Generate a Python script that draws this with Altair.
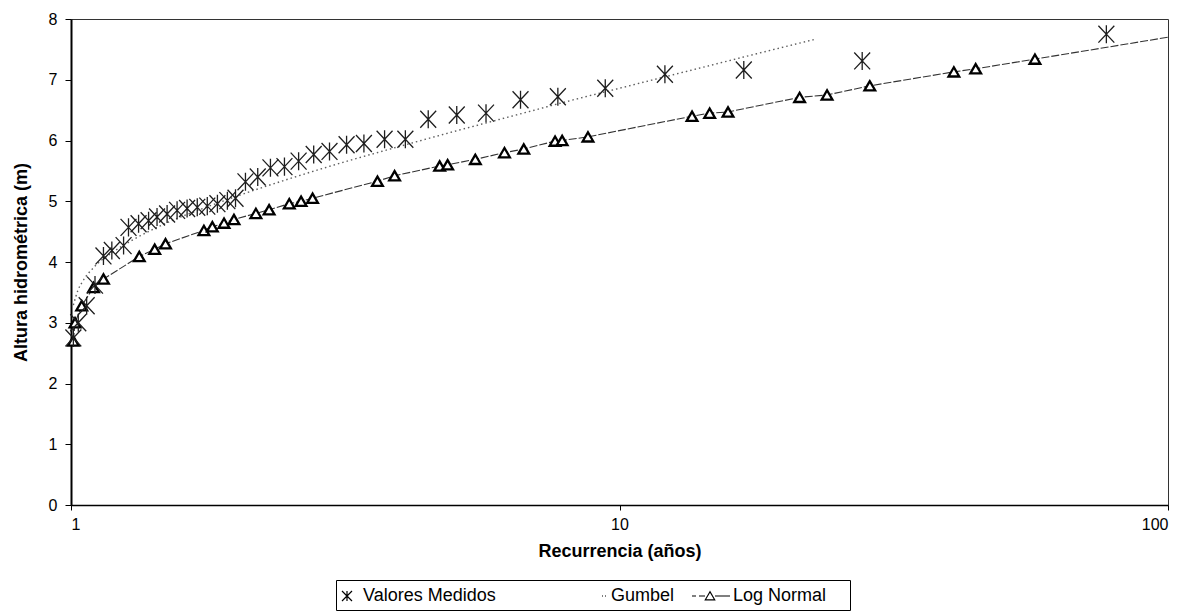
import altair as alt
import pandas as pd

# ---- data ----
med_T = [1.01, 1.031, 1.068, 1.106, 1.146, 1.187, 1.247, 1.273, 1.328, 1.385,
         1.435, 1.497, 1.561, 1.628, 1.699, 1.772, 1.849, 1.928, 1.995, 2.08,
         2.19, 2.31, 2.45, 2.60, 2.77, 2.96, 3.18, 3.42, 3.73, 4.07,
         4.48, 5.05, 5.71, 6.60, 7.72, 9.42, 12.1, 16.85, 27.7, 77.2]
med_h = [2.75, 3.00, 3.28, 3.62, 4.10, 4.19, 4.27, 4.57, 4.63, 4.68,
         4.74, 4.79, 4.85, 4.88, 4.90, 4.92, 4.96, 5.01, 5.05, 5.32,
         5.40, 5.55, 5.57, 5.66, 5.77, 5.82, 5.93, 5.95, 6.02, 6.02,
         6.35, 6.42, 6.45, 6.67, 6.72, 6.86, 7.09, 7.16, 7.31, 7.75]

gum_T = [1.01, 1.03, 1.05, 1.1, 1.2, 1.3, 1.5, 1.75, 2.0, 2.5, 3.0,
         4.0, 5.0, 6.0, 7.0, 8.0, 10.0, 12.0, 15.0, 18.0, 22.6]
gum_h = [3.29, 3.54, 3.68, 3.91, 4.18, 4.37, 4.65, 4.89, 5.08, 5.37, 5.59,
         5.91, 6.15, 6.34, 6.50, 6.64, 6.86, 7.04, 7.26, 7.44, 7.66]

ln_T = [1.01, 1.017, 1.046, 1.099, 1.146, 1.332, 1.421, 1.487, 1.747, 1.810,
        1.901, 1.982, 2.173, 2.297, 2.500, 2.627, 2.757, 3.62, 3.89, 4.70,
        4.86, 5.46, 6.17, 6.69, 7.63, 7.86, 8.76, 13.56, 14.6, 15.77,
        21.3, 23.9, 28.6, 40.7, 44.6, 57.2]
ln_h = [2.70, 3.00, 3.28, 3.58, 3.72, 4.09, 4.21, 4.30, 4.52, 4.58,
        4.64, 4.70, 4.80, 4.86, 4.96, 5.00, 5.05, 5.33, 5.42, 5.58,
        5.60, 5.69, 5.80, 5.86, 5.99, 6.00, 6.06, 6.40, 6.45, 6.47,
        6.71, 6.75, 6.90, 7.13, 7.18, 7.34]
# the Log Normal line continues (without marker) to the right edge
ln_end_T = [100.0]
ln_end_h = [7.70]

series = ["Valores Medidos", "Gumbel", "Log Normal"]
x_ticks = [1, 10, 100]
y_ticks = [0, 1, 2, 3, 4, 5, 6, 7, 8]

# ---- tables ----
med = pd.DataFrame({"T": med_T, "h": med_h, "serie": series[0]})
gum = pd.DataFrame({"T": gum_T, "h": gum_h, "serie": series[1]})
ln = pd.DataFrame({"T": ln_T, "h": ln_h, "serie": series[2]})
ln_line = pd.concat([ln, pd.DataFrame({"T": ln_end_T, "h": ln_end_h, "serie": series[2]})])
allpts = pd.concat([med, gum, ln])

FONT = "Liberation Sans"
AST = "M0,-0.85L0,0.85M-0.75,-0.8L0.75,0.8M-0.75,0.8L0.75,-0.8"
# legend symbols (a leading/trailing bare moveTo only widens the entry's spacing)
LEG_AST = "M-0.5,-0.5L-0.5,0.5M-1,-0.5L0,0.5M-1,0.5L0,-0.5"
LEG_GUM = "M-8.7,0M0.2,0L0.3,0M0.5,0L0.6,0"
LEG_LN = ("M-3.0,0L-2.6,0M-2.3,0L-1.7,0M-1.2,-0.42L-1.67,0.38L-0.73,0.38Z"
          "M-0.7,0L0.8,0M12.0,0")

X = alt.X("T:Q",
          scale=alt.Scale(type="log", domain=[1, 100], nice=False),
          axis=alt.Axis(values=x_ticks, format="d", title="Recurrencia (años)",
                        grid=False, domainColor="black", domainWidth=1.3,
                        tickColor="black", tickSize=5, labelPadding=6,
                        labelFontSize=16, labelFont=FONT, labelColor="black",
                        titleFont=FONT, titleFontSize=18, titleFontWeight="bold",
                        titleColor="black", titlePadding=10))
Y = alt.Y("h:Q",
          scale=alt.Scale(domain=[0, 8], nice=False, zero=True),
          axis=alt.Axis(values=y_ticks, title="Altura hidrométrica (m)",
                        grid=False, domainColor="black", domainWidth=2,
                        tickColor="black", tickSize=6, labelPadding=8,
                        labelFontSize=16, labelFont=FONT, labelColor="black",
                        titleFont=FONT, titleFontSize=18, titleFontWeight="bold",
                        titleColor="black", titlePadding=18))

gum_layer = alt.Chart(gum).mark_line(
    color="#5e5e5e", strokeDash=[1.5, 3], strokeWidth=1.4, interpolate="monotone"
).encode(x=X, y=Y)

ln_line_layer = alt.Chart(ln_line).mark_line(
    color="#333333", strokeWidth=1.1, strokeDash=[8, 2]
).encode(x=X, y=Y)

ln_pts = alt.Chart(ln).mark_point(
    shape="triangle-up", size=115, filled=True, fill="white", stroke="black",
    strokeWidth=2.3, opacity=1
).encode(x=X, y=Y)

med_pts = alt.Chart(med).mark_point(
    shape=AST, size=450, filled=False, stroke="#1e1e1e", strokeWidth=1.3, opacity=1
).encode(x=X, y=Y)

legend_carrier = alt.Chart(allpts).mark_point(
    opacity=0, filled=False, stroke="black", strokeWidth=1.2
).encode(
    x=X, y=Y,
    shape=alt.Shape("serie:N",
                    scale=alt.Scale(domain=series, range=[LEG_AST, LEG_GUM, LEG_LN]),
                    legend=alt.Legend(orient="none", legendX=265, legendY=561,
                                      direction="horizontal", title=None,
                                      labelFont=FONT, labelFontSize=18,
                                      labelColor="black", symbolSize=400,
                                      symbolStrokeColor="black", symbolStrokeWidth=1.2,
                                      symbolOpacity=1, labelOffset=0,
                                      labelLimit=400,
                                      columnPadding=14, padding=5,
                                      strokeColor="black", fillColor="white"))
)

chart = alt.layer(gum_layer, ln_line_layer, ln_pts, med_pts, legend_carrier).properties(
    width=1097, height=486,
    autosize=alt.AutoSizeParams(type="none"),
    padding={"left": 71, "top": 19, "right": 20, "bottom": 108},
    background="white",
).configure_view(stroke="#333333", strokeWidth=1)

chart.save("out.html", embed_options={"renderer": "svg", "actions": False})
